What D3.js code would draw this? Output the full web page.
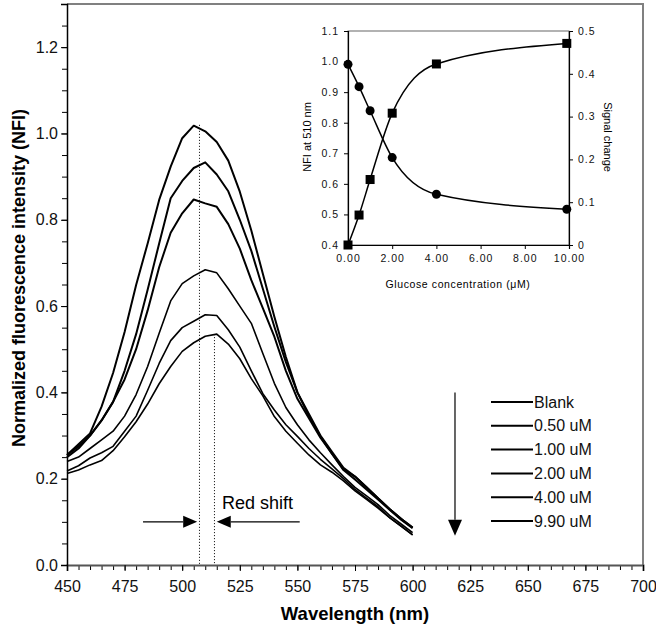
<!DOCTYPE html>
<html><head><meta charset="utf-8">
<script src="https://cdn.jsdelivr.net/npm/d3@7"></script>
<style>
body{margin:0;background:#fff}
svg{display:block;font-family:Arial,"Liberation Sans",sans-serif}
</style>
</head><body>
<svg id="c" width="656" height="637"></svg>
<script>
// ---------- data ----------
const wavelengths = [450,455,460,465,470,475,480,485,490,495,500,505,510,515,520,525,530,535,540,545,550,555,560,565,570,575,580,585,590,595,600];
const seriesNames = ["Blank","0.50 uM","1.00 uM","2.00 uM","4.00 uM","9.90 uM"];
const blank = [0.255,0.28,0.305,0.367,0.445,0.54,0.649,0.745,0.846,0.923,0.989,1.018,1.005,0.98,0.937,0.865,0.775,0.675,0.575,0.482,0.40,0.345,0.298,0.258,0.22,0.198,0.175,0.152,0.128,0.105,0.085];
const c050 = [0.255,0.275,0.30,0.335,0.378,0.45,0.535,0.638,0.745,0.85,0.89,0.92,0.933,0.905,0.866,0.80,0.728,0.64,0.552,0.47,0.40,0.35,0.30,0.262,0.225,0.205,0.18,0.155,0.13,0.107,0.087];
const c100 = [0.25,0.27,0.30,0.335,0.378,0.43,0.50,0.59,0.69,0.77,0.815,0.847,0.838,0.83,0.79,0.733,0.66,0.595,0.529,0.45,0.385,0.34,0.295,0.258,0.222,0.205,0.18,0.155,0.13,0.107,0.087];
const c200 = [0.24,0.25,0.27,0.29,0.31,0.345,0.395,0.46,0.537,0.612,0.652,0.67,0.684,0.677,0.64,0.60,0.56,0.49,0.421,0.365,0.325,0.29,0.26,0.232,0.205,0.18,0.16,0.14,0.115,0.095,0.075];
const c400 = [0.218,0.23,0.248,0.26,0.275,0.31,0.345,0.405,0.467,0.52,0.55,0.565,0.58,0.578,0.545,0.505,0.45,0.397,0.359,0.325,0.298,0.27,0.245,0.223,0.20,0.175,0.155,0.135,0.11,0.09,0.07];
const c990 = [0.212,0.22,0.232,0.242,0.265,0.297,0.332,0.373,0.42,0.46,0.495,0.515,0.53,0.535,0.512,0.478,0.432,0.392,0.344,0.31,0.282,0.255,0.232,0.215,0.195,0.172,0.152,0.132,0.11,0.09,0.07];
const xTicks = [450,475,500,525,550,575,600,625,650,675,700];
const yTicks = [0,0.2,0.4,0.6,0.8,1.0,1.2];

const glucose = [0,0.5,1,2,4,9.9];
const nfi510 = [0.991,0.918,0.839,0.686,0.566,0.517];
const signalChange = [0,0.07,0.153,0.308,0.423,0.471];
const insetXTicks = [0,2,4,6,8,10];
const insetLeftTicks = [0.4,0.5,0.6,0.7,0.8,0.9,1.0,1.1];
const insetRightTicks = [0,0.1,0.2,0.3,0.4,0.5];

// ---------- main chart ----------
const svg = d3.select("#c");
const x = d3.scaleLinear().domain([450,700]).range([67,643]);
const y = d3.scaleLinear().domain([0,1.3]).range([565,4]);

// frame (top/right)
svg.append("path").attr("d",`M${x(450)},${y(1.3)}H${x(700)}V${y(0)}`)
  .attr("fill","none").attr("stroke","#808080").attr("stroke-width",2);

// minor ticks
const minorX = d3.range(450,701,5);
const minorY = d3.range(0,1.301,0.05);
svg.append("g").attr("transform",`translate(0,${y(0)})`)
  .call(d3.axisBottom(x).tickValues(minorX).tickSize(5).tickFormat(""))
  .call(g=>g.select(".domain").remove())
  .call(g=>g.selectAll("line").attr("stroke","#000"));
svg.append("g").attr("transform",`translate(${x(450)},0)`)
  .call(d3.axisLeft(y).tickValues(minorY).tickSize(5).tickFormat(""))
  .call(g=>g.select(".domain").remove())
  .call(g=>g.selectAll("line").attr("stroke","#000"));

// major axes with labels
const gx = svg.append("g").attr("transform",`translate(0,${y(0)})`)
  .call(d3.axisBottom(x).tickValues(xTicks).tickSize(6).tickPadding(10).tickFormat(d3.format("d")));
gx.select(".domain").attr("stroke","#555").attr("stroke-width",2);
gx.selectAll("text").attr("font-size",16).attr("fill","#111").attr("font-family","Arial,'Liberation Sans',sans-serif");
const gy = svg.append("g").attr("transform",`translate(${x(450)},0)`)
  .call(d3.axisLeft(y).tickValues(yTicks).tickSize(6).tickPadding(3).tickFormat(d3.format(".1f")));
gy.select(".domain").attr("stroke","#000").attr("stroke-width",1.5);
gy.selectAll("text").attr("font-size",16).attr("fill","#111").attr("font-family","Arial,'Liberation Sans',sans-serif");

// titles
svg.append("text").attr("x",355).attr("y",620).attr("text-anchor","middle")
  .attr("font-size",18.5).attr("font-weight","bold").text("Wavelength (nm)");
svg.append("text").attr("transform","translate(25,278) rotate(-90)").attr("text-anchor","middle")
  .attr("font-size",18).attr("font-weight","bold").text("Normalized fluorescence intensity (NFI)");

// spectra
const allSeries = [blank,c050,c100,c200,c400,c990];
const line = d3.line().x((d,i)=>x(wavelengths[i])).y(d=>y(d)).curve(d3.curveLinear);
svg.append("g").selectAll("path").data(allSeries).join("path")
  .attr("d",line).attr("fill","none").attr("stroke","#000")
  .attr("stroke-width",(d,i)=> i<3 ? 2 : 1.6).attr("stroke-linejoin","round");

// dotted peak lines
svg.append("line").attr("x1",x(507.5)).attr("x2",x(507.5)).attr("y1",y(1.02)).attr("y2",y(0))
  .attr("stroke","#000").attr("stroke-width",1).attr("stroke-dasharray","1,2");
svg.append("line").attr("x1",x(514)).attr("x2",x(514)).attr("y1",y(0.535)).attr("y2",y(0))
  .attr("stroke","#000").attr("stroke-width",1).attr("stroke-dasharray","1,2");

// red shift arrows
const ay = y(0.1);
function hArrow(x1, x2){ // line from x1 to tip x2
  const dir = Math.sign(x2-x1);
  const hl = 14;
  svg.append("line").attr("x1",x1).attr("x2",x2-dir*hl).attr("y1",ay).attr("y2",ay).attr("stroke","#000").attr("stroke-width",1.2);
  svg.append("path").attr("d",`M${x2},${ay}L${x2-dir*hl},${ay-6}L${x2-dir*hl},${ay+6}Z`).attr("fill","#000");
}
hArrow(x(483), x(506.5));
hArrow(x(551), x(515));
svg.append("text").attr("x",x(517.3)).attr("y",y(0.13)).attr("font-size",18).text("Red shift");

// vertical arrow
const vx = x(618.4);
svg.append("line").attr("x1",vx).attr("x2",vx).attr("y1",y(0.4)).attr("y2",y(0.105)).attr("stroke","#000").attr("stroke-width",1.2);
svg.append("path").attr("d",`M${vx},${y(0.068)}L${vx-7},${y(0.105)}L${vx+7},${y(0.105)}Z`).attr("fill","#000");

// legend
const lg = svg.append("g");
seriesNames.forEach((n,i)=>{
  const ly = 402 + i*23.8;
  lg.append("line").attr("x1",491).attr("x2",533).attr("y1",ly).attr("y2",ly).attr("stroke","#000").attr("stroke-width",2);
  lg.append("text").attr("x",534).attr("y",ly).attr("dy","0.35em").attr("font-size",16).attr("fill","#111").text(n);
});

// ---------- inset ----------
const ix = d3.scaleLinear().domain([0,10]).range([348,569]);
const iyL = d3.scaleLinear().domain([0.4,1.1]).range([245,31]);
const iyR = d3.scaleLinear().domain([0,0.5]).range([245,31]);
const ins = svg.append("g");
ins.append("rect").attr("x",348).attr("y",31).attr("width",221).attr("height",214)
  .attr("fill","none").attr("stroke","#666").attr("stroke-width",1);

const fmtStyle = g=>g.selectAll("text").attr("font-size",10.5).attr("fill","#111").attr("letter-spacing","1px").attr("font-family","Arial,'Liberation Sans',sans-serif");
const ax1 = ins.append("g").attr("transform","translate(0,245)")
  .call(d3.axisBottom(ix).tickValues(insetXTicks).tickSize(4).tickPadding(6).tickFormat(d3.format(".2f")));
ax1.select(".domain").attr("stroke","#000").attr("stroke-width",1.2); fmtStyle(ax1);
const ax2 = ins.append("g").attr("transform","translate(348,0)")
  .call(d3.axisLeft(iyL).tickValues(insetLeftTicks).tickSize(4).tickPadding(5).tickFormat(d3.format(".1f")));
ax2.select(".domain").attr("stroke","#000").attr("stroke-width",1.2); fmtStyle(ax2);
const ax3 = ins.append("g").attr("transform","translate(569,0)")
  .call(d3.axisRight(iyR).tickValues(insetRightTicks).tickSize(4).tickPadding(5).tickFormat(d=> d===0?"0":d3.format(".1f")(d)));
ax3.select(".domain").attr("stroke","#000").attr("stroke-width",1.2); fmtStyle(ax3);

ins.append("text").attr("x",458).attr("y",288).attr("text-anchor","middle")
  .attr("font-size",10.5).attr("letter-spacing","0.6px").text("Glucose concentration (μM)");
ins.append("text").attr("transform","translate(311,137) rotate(-90)").attr("text-anchor","middle")
  .attr("font-size",11).text("NFI at 510 nm");
ins.append("text").attr("transform","translate(604,137) rotate(90)").attr("text-anchor","middle")
  .attr("font-size",11).text("Signal change");

const l1 = d3.line().x((d,i)=>ix(glucose[i])).y(d=>iyL(d)).curve(d3.curveMonotoneX);
const l2 = d3.line().x((d,i)=>ix(glucose[i])).y(d=>iyR(d)).curve(d3.curveMonotoneX);
ins.append("path").attr("d",l1(nfi510)).attr("fill","none").attr("stroke","#000").attr("stroke-width",1.5);
ins.append("path").attr("d",l2(signalChange)).attr("fill","none").attr("stroke","#000").attr("stroke-width",1.5);
ins.selectAll("circle").data(nfi510).join("circle")
  .attr("cx",(d,i)=>ix(glucose[i])).attr("cy",d=>iyL(d)).attr("r",4.5).attr("fill","#000");
ins.selectAll("rect.sq").data(signalChange).join("rect").attr("class","sq")
  .attr("x",(d,i)=>ix(glucose[i])-4.5).attr("y",d=>iyR(d)-4.5).attr("width",9).attr("height",9).attr("fill","#000");
</script>
</body></html>
